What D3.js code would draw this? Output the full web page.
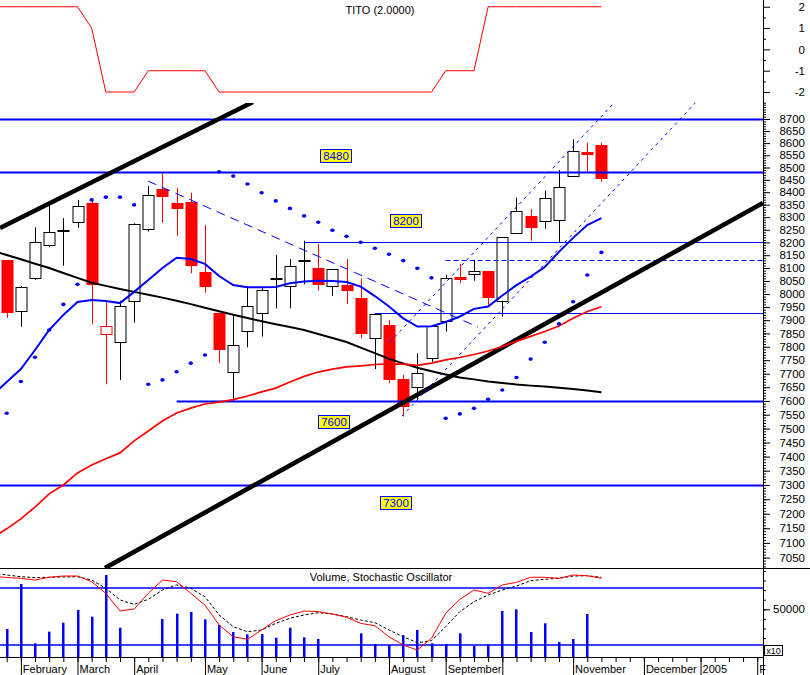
<!DOCTYPE html>
<html>
<head>
<meta charset="utf-8">
<script src="https://cdn.jsdelivr.net/npm/d3@7/dist/d3.min.js"></script>
<style>html,body{margin:0;padding:0;background:#fff;}svg{display:block;}</style>
</head>
<body>
<script>
// ---------------- DATA (weekly bars, index 0 = first visible week) ----------------
const weekIndex = d3.range(0, 43);
const open  = [8131,7936,8060,8187,8246,8280,8356,7847,7817,7973,8252,8412,8355,8359,8084,7928,7705,7858,7926,8058,8030,8126,8100,8030,8034,7985,7832,7882,7681,7652,7757,7895,8064,8076,8089,7973,8236,8305,8282,8288,8468,8564,8592];
const high  = [8131,8031,8260,8348,8296,8369,8375,7977,7974,8276,8425,8476,8418,8398,8269,7928,7917,8028,8022,8151,8135,8207,8194,8097,8135,8060,7926,7901,7695,7776,7878,8074,8116,8132,8089,8220,8378,8332,8406,8490,8616,8602,8602];
const low   = [7909,7875,8054,8181,8109,8258,7884,7661,7677,7891,8243,8278,8226,8080,8005,7739,7600,7798,7838,7945,7945,8037,8013,7993,7962,7832,7717,7665,7543,7604,7744,7857,8041,8051,7958,7913,8236,8207,8254,8201,8468,8483,8442];
const close = [7932,8026,8201,8240,8250,8343,8037,7879,7953,8273,8387,8384,8334,8109,8028,7791,7807,7953,8015,8062,8107,8130,8037,8097,8013,7853,7924,7682,7582,7704,7878,8060,8056,8089,7990,8220,8324,8262,8375,8420,8569,8554,8458];
const volume = [29480,76350,14580,26670,36040,49270,42290,85730,30830,0,0,39900,45420,47190,39580,33650,26350,23960,24270,20420,30830,20830,19060,0,0,25000,13850,12810,22920,28440,14580,13850,25000,11770,13850,48230,50000,26350,35420,15940,19060,45100,0];
const sar = [7555,7671,7761,7863,7960,8037,8369,8380,8380,8349,7661,7677,7707,7739,7769,8483,8465,8433,8398,8365,8335,8305,8280,8248,8224,8201,8177,8154,8129,8099,8062,7537,7553,7573,7606,7640,7686,7754,7817,7886,7970,8073,8161];

// indicator series begin one week before the first visible candle
const firstIndicatorIndex = -1;
const maShort = [7622,7669,7717,7788,7863,7920,7969,7977,7973,7965,8008,8054,8100,8140,8135,8116,8069,8034,8026,8026,8027,8041,8048,8051,8050,8046,8028,7992,7952,7907,7876,7877,7893,7914,7943,7952,7994,8034,8067,8104,8163,8218,8269,8296];
const maMid   = [8167,8151,8134,8117,8100,8081,8062,8043,8031,8019,8008,7997,7986,7974,7961,7947,7934,7921,7908,7896,7885,7874,7863,7848,7833,7818,7797,7776,7755,7738,7722,7709,7697,7686,7679,7671,7666,7660,7656,7653,7648,7644,7638,7632];
const maLong  = [7117,7148,7182,7223,7269,7300,7342,7370,7392,7413,7456,7491,7527,7556,7574,7589,7596,7605,7618,7633,7647,7669,7690,7706,7717,7725,7729,7734,7736,7735,7731,7739,7751,7760,7771,7784,7801,7820,7839,7857,7878,7907,7933,7951];
const tito    = [2,2,2,2,2,2,2,1,-2,-2,-2,-1,-1,-1,-1,-1,-2,-2,-2,-2,-2,-2,-2,-2,-2,-2,-2,-2,-2,-2,-2,-2,-1,-1,-1,2,2,2,2,2,2,2,2,2];
const stochK  = [92.6,91,90.2,88.4,91.3,92.6,92.6,86.6,74.4,55.8,57.9,74.4,88.4,86.6,74.4,62.1,41.1,28.7,26,35.8,45.6,51.6,55.8,55.1,52.6,49.2,42.8,40.3,28.7,20,14.7,27.1,53.4,68.1,77.9,74.4,83.2,86,91.3,91.3,90.2,93.7,92.9,90.2];
const stochD  = [95.8,93.7,91.9,91,91.3,91.6,91.9,88.4,79.7,67.4,62.8,68.1,77.9,83.2,79.7,70.8,51.6,39.3,34,35.8,42.8,48.1,51.6,54,52.6,49.8,46.3,43.5,35.8,28.7,22.4,24.5,39.3,55.1,65.6,72.6,77.9,82.1,87.7,89.2,90.2,92.6,92.9,91.3];
const stochLevels = [20, 80];

// support / resistance levels (price, first week index)
const levelPrices = [8700, 8480, 8200, 8130, 7927, 7600, 7300];
const levelStart  = [-1, -1, 21, 31, 26, 12, -1];
const labelText  = ["8480", "8200", "7600", "7300"];
const labelIndex = [23.22, 28.23, 23.11, 27.46];
const labelPrice = [8547, 8286, 7524, 7237];
// trend lines as [[week, price],[week, price]]
const trendThick  = [[[-0.47, 8257], [17.39, 8771]], [[6.94, 7015], [53.41, 8357]]];
const trendDashed = [[[9.98, 8445], [33.28, 7874]], [[27.07, 7818], [42.82, 8763]], [[27.92, 7545], [48.75, 8775]]];

// axis ticks
const weekTicks  = d3.range(0, 54);
const monthIndex = [1, 5, 9, 14, 18, 22, 27, 31, 35, 40, 45, 49, 53];
const monthLabel = ["February","March","April","May","June","July","August","September","","November","December","2005","F"];
const priceTicks = d3.range(7050, 8701, 50);
const priceMinor = d3.range(7020, 8761, 10);
const titoTicks  = [2, 1, 0, -1, -2];
const titoMinor  = [2.5, 1.5, 0.5, -0.5, -1.5, -2.5];
const volTicks   = [50000];
const volMinor   = d3.range(10000, 90001, 10000);

// ---------------- DRAWING ----------------
const W = 810, H = 675, AX = 763;
const FONT = "'Liberation Sans', Arial, Helvetica, sans-serif";
const RED = "#ff0000", BLUE = "#0000ff", BLACK = "#000000";

const x = d3.scaleLinear().domain([0, 53]).range([6.7, 757.2]);
const yTop = d3.scaleLinear().domain([-2.5, 2.5]).range([102.7, -3.9]);
const yMain = d3.scaleLog().domain([7015, 8767]).range([568, 103]);
const yVol = d3.scaleLinear().domain([0, 50000]).range([657.3, 609.3]);
const yStoch = d3.scaleLinear().domain([0, 100]).range([664, 569]);

const svg = d3.select("body").append("svg")
  .attr("width", W).attr("height", H).attr("font-family", FONT);
const defs = svg.append("defs");
function clip(id, x0, y0, w, h) {
  defs.append("clipPath").attr("id", id).append("rect")
    .attr("x", x0).attr("y", y0).attr("width", w).attr("height", h);
}
clip("cTop", 0, 0, AX, 103);
clip("cMain", 0, 103, AX, 465);
clip("cVol", 0, 568, AX, 89.3);

const withIdx = (arr, start) => arr.map((v, k) => [k + start, v]);

// ---- top panel: TITO ----
const gTop = svg.append("g").attr("clip-path", "url(#cTop)");
gTop.append("path").datum(withIdx(tito, firstIndicatorIndex))
  .attr("d", d3.line().x(d => x(d[0])).y(d => yTop(d[1])))
  .attr("fill", "none").attr("stroke", RED).attr("stroke-width", 1);
svg.append("text").attr("x", 380).attr("y", 14).attr("text-anchor", "middle")
  .attr("font-size", 11).text("TITO (2.0000)");

// ---- main panel ----
const gMain = svg.append("g").attr("clip-path", "url(#cMain)");
const candles = weekIndex.map(i => ({
  i, o: open[i], h: high[i], l: low[i], c: close[i],
  pc: i > 0 ? close[i - 1] : open[i]
}));
candles.forEach(d => { d.col = d.c < d.pc ? RED : BLACK; d.filled = d.c < d.o; });
const cx = i => Math.round(x(i)) + 0.5;

const gc = gMain.append("g");
gc.selectAll("line").data(candles).join("line")
  .attr("x1", d => cx(d.i)).attr("x2", d => cx(d.i))
  .attr("y1", d => yMain(d.h)).attr("y2", d => yMain(d.l))
  .attr("stroke", d => d.col).attr("stroke-width", 1);
gc.selectAll("rect").data(candles).join("rect")
  .attr("x", d => cx(d.i) - 5.5).attr("width", 11)
  .attr("y", d => Math.round(yMain(Math.max(d.o, d.c))) + 0.5)
  .attr("height", d => Math.max(1, Math.round(Math.abs(yMain(d.o) - yMain(d.c)))))
  .attr("fill", d => d.filled ? d.col : "#ffffff")
  .attr("stroke", d => d.col).attr("stroke-width", 1);

// horizontal levels
const levels = levelPrices.map((p, k) => ({ p, s: levelStart[k] }));
gMain.selectAll(null).data(levels).join("line")
  .attr("x1", d => Math.max(0, x(d.s))).attr("x2", AX)
  .attr("y1", d => Math.round(yMain(d.p)) + 0.5).attr("y2", d => Math.round(yMain(d.p)) + 0.5)
  .attr("stroke", BLUE)
  .attr("stroke-width", d => (d.s < 0 || d.p === 7600) ? 2 : 1)
  .attr("stroke-dasharray", d => d.p === 8130 ? "5,3" : null);

// trend lines
gMain.selectAll(null).data(trendThick).join("line")
  .attr("x1", d => x(d[0][0])).attr("y1", d => yMain(d[0][1]))
  .attr("x2", d => x(d[1][0])).attr("y2", d => yMain(d[1][1]))
  .attr("stroke", BLACK).attr("stroke-width", 4.6);
gMain.selectAll(null).data(trendDashed).join("line")
  .attr("x1", d => x(d[0][0])).attr("y1", d => yMain(d[0][1]))
  .attr("x2", d => x(d[1][0])).attr("y2", d => yMain(d[1][1]))
  .attr("stroke", BLUE).attr("stroke-width", 1)
  .attr("stroke-dasharray", (d, k) => k === 0 ? "9,6" : "3,4");

// moving averages
const lineMain = d3.line().x(d => x(d[0])).y(d => yMain(d[1]));
[[maMid, BLACK, 2], [maLong, RED, 1.7], [maShort, BLUE, 2]].forEach(([arr, col, w]) => {
  gMain.append("path").datum(withIdx(arr, firstIndicatorIndex))
    .attr("d", lineMain).attr("fill", "none").attr("stroke", col).attr("stroke-width", w);
});

// parabolic SAR dots
gMain.selectAll(null).data(sar.map((v, i) => [i, v])).join("ellipse")
  .attr("cx", d => x(d[0])).attr("cy", d => yMain(d[1]))
  .attr("rx", 2.2).attr("ry", 1.8).attr("fill", BLUE);

// level labels
const lab = gMain.selectAll(null).data(labelText.map((t, k) => ({ t, i: labelIndex[k], p: labelPrice[k] })))
  .join("g").attr("transform", d => `translate(${Math.round(x(d.i))},${Math.round(yMain(d.p))})`);
lab.append("rect").attr("x", -15.5).attr("y", -6.5).attr("width", 31).attr("height", 13)
  .attr("fill", "#ffff00").attr("stroke", BLUE).attr("stroke-width", 1);
lab.append("text").attr("text-anchor", "middle").attr("dy", "0.36em")
  .attr("font-size", 11.5).attr("fill", BLUE).text(d => d.t);

// ---- volume / stochastic panel ----
const gVol = svg.append("g").attr("clip-path", "url(#cVol)");
gVol.selectAll(null).data(stochLevels).join("line")
  .attr("x1", 0).attr("x2", AX)
  .attr("y1", d => yStoch(d)).attr("y2", d => yStoch(d))
  .attr("stroke", BLUE).attr("stroke-width", 1.5);
gVol.selectAll(null).data(volume.map((v, i) => ({ i, v }))).join("rect")
  .attr("x", d => Math.round(x(d.i)) - 1).attr("width", 2.5)
  .attr("y", d => yVol(d.v)).attr("height", d => yVol(0) - yVol(d.v))
  .attr("fill", BLUE);
const lineStoch = d3.line().x(d => x(d[0])).y(d => yStoch(d[1]));
gVol.append("path").datum(withIdx(stochD, firstIndicatorIndex)).attr("d", lineStoch)
  .attr("fill", "none").attr("stroke", BLACK).attr("stroke-width", 1).attr("stroke-dasharray", "3,2");
gVol.append("path").datum(withIdx(stochK, firstIndicatorIndex)).attr("d", lineStoch)
  .attr("fill", "none").attr("stroke", RED).attr("stroke-width", 1);
svg.append("text").attr("x", 381).attr("y", 581).attr("text-anchor", "middle")
  .attr("font-size", 11).text("Volume, Stochastic Oscillator");

// ---- frame lines ----
svg.append("line").attr("x1", 0).attr("x2", W).attr("y1", 568.5).attr("y2", 568.5).attr("stroke", BLACK);
svg.append("line").attr("x1", 0).attr("x2", AX + 0.5).attr("y1", 657.5).attr("y2", 657.5).attr("stroke", BLACK);
svg.append("line").attr("x1", AX + 0.5).attr("x2", AX + 0.5).attr("y1", 0).attr("y2", H).attr("stroke", BLACK);

// ---- right axes ----
function rightAxis(scale, minor, major, fmt) {
  const gMin = svg.append("g").attr("transform", `translate(${AX},0)`)
    .call(d3.axisRight(scale).tickValues(minor).tickSize(3).tickFormat(""));
  gMin.select(".domain").remove();
  const g = svg.append("g").attr("transform", `translate(${AX},0)`)
    .call(d3.axisRight(scale).tickValues(major).tickSize(7).tickFormat(fmt));
  g.select(".domain").remove();
  g.attr("font-family", FONT).attr("font-size", 11.5);
  g.selectAll("text").attr("x", 42).attr("text-anchor", "end").attr("fill", BLACK);
}
rightAxis(yTop, titoMinor, titoTicks, d => String(d));
rightAxis(yMain, priceMinor, priceTicks, d => String(d));
rightAxis(yVol, volMinor, volTicks, d => String(d));

// x10 box
svg.append("rect").attr("x", 764.5).attr("y", 645.5).attr("width", 18).attr("height", 10)
  .attr("fill", "#fff").attr("stroke", BLACK);
svg.append("text").attr("x", 773.5).attr("y", 653.5).attr("text-anchor", "middle")
  .attr("font-size", 9).text("x10");

// ---- bottom time axis ----
const gx = svg.append("g").attr("transform", "translate(0,657)")
  .call(d3.axisBottom(x).tickValues(weekTicks).tickSize(5).tickFormat(""));
gx.select(".domain").remove();
const gm = svg.append("g").attr("transform", "translate(0,657)")
  .call(d3.axisBottom(x).tickValues(monthIndex).tickSize(18)
    .tickFormat((d, k) => monthLabel[k]));
gm.select(".domain").remove();
gm.attr("font-family", FONT).attr("font-size", 11);
gm.selectAll("text").attr("text-anchor", "start").attr("x", 1.5).attr("y", 15.5)
  .attr("dy", 0).attr("fill", BLACK);
</script>
</body>
</html>
